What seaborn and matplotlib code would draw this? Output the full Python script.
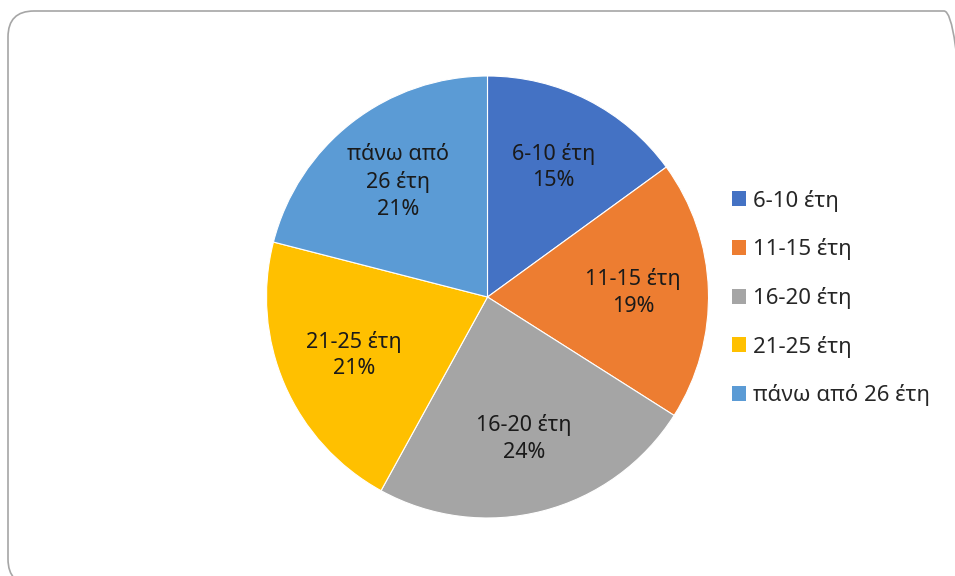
import matplotlib
matplotlib.use("Agg")
import matplotlib.pyplot as plt
from matplotlib.patches import FancyBboxPatch, Patch
from matplotlib.transforms import IdentityTransform
import seaborn as sns

categories = ["6-10 έτη", "11-15 έτη", "16-20 έτη", "21-25 έτη", "πάνω από 26 έτη"]
label_texts = ["6-10 έτη", "11-15 έτη", "16-20 έτη", "21-25 έτη", "πάνω από\n26 έτη"]
values = [15, 19, 24, 21, 21]
colors = ["#4472C4", "#ED7D31", "#A5A5A5", "#FFC000", "#5B9BD5"]

sns.set_theme(style="white")
plt.rcParams["font.family"] = ["Noto Sans", "DejaVu Sans"]

fig = plt.figure(figsize=(9.55, 5.76), dpi=100)
fig.patch.set_facecolor("white")

border = FancyBboxPatch((8, -9), 962, 574,
                        boxstyle="round,pad=0,rounding_size=26",
                        transform=IdentityTransform(), facecolor="none",
                        edgecolor="#A6A6A6", linewidth=1.2)
fig.patches.append(border)

ax = fig.add_axes([(487.5 - 221) / 955, (279 - 221) / 576, 442 / 955, 442 / 576])
total = sum(values)
labels = [f"{t}\n{round(v * 100 / total)}%" for t, v in zip(label_texts, values)]
wedges, texts = ax.pie(values, colors=colors, startangle=90, counterclock=False,
                       labels=labels, labeldistance=0.66,
                       wedgeprops=dict(edgecolor="white", linewidth=0.8),
                       textprops=dict(fontsize=15.5, color="#1a1a1a", linespacing=1.35))
for t in texts:
    t.set_horizontalalignment("center")
    t.set_verticalalignment("center")
ax.set_xlim(-1, 1)
ax.set_ylim(-1, 1)
ax.set_aspect("equal")
ax.axis("off")

handles = [Patch(facecolor=c, edgecolor="none") for c in colors]
fig.legend(handles, categories, loc="center left",
           bbox_to_anchor=(732 / 955, (576 - 298) / 576), frameon=False,
           fontsize=16, handlelength=0.65, handleheight=0.65, handletextpad=0.3,
           labelspacing=1.2, borderaxespad=0, borderpad=0)

fig.savefig("out.png", dpi=100, facecolor="white")
